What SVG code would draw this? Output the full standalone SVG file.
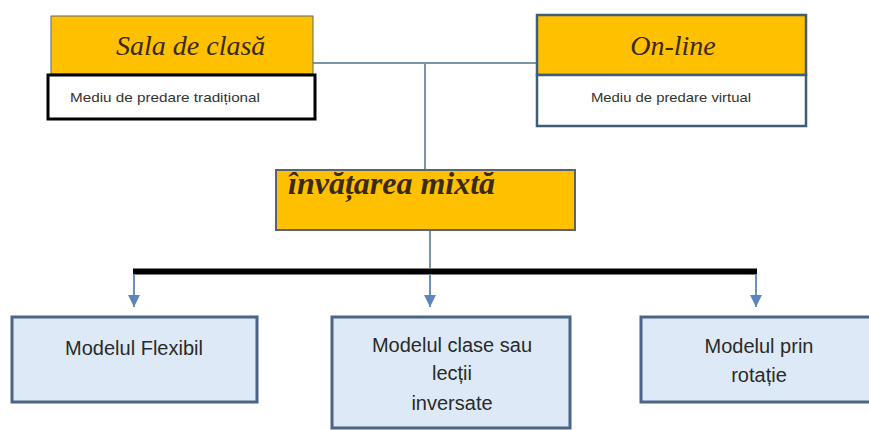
<svg xmlns="http://www.w3.org/2000/svg" width="869" height="430" viewBox="0 0 869 430">
<style>
.hd{fill:#ffc000}
.ser{font-family:"Liberation Serif","DejaVu Serif",serif;font-style:italic;fill:#3a2a10}
.sm{font-family:"Liberation Sans",Arial,sans-serif;font-size:13px;fill:#333}
.bx{fill:#dde9f6;stroke:#4a6585;stroke-width:3}
.bt{font-family:"Liberation Sans",Arial,sans-serif;font-size:20px;fill:#2a2a2a;text-anchor:middle}
.ln{stroke:#7b93ad;stroke-width:2;fill:none}
.ar{stroke:#6a90c0;stroke-width:2;fill:none}
</style>
<defs>
<marker id="ah" viewBox="0 0 10 10" refX="10" refY="5" markerWidth="12" markerHeight="12" markerUnits="userSpaceOnUse" orient="auto">
<path d="M0,0 L10,5 L0,10 Z" fill="#5a86bd"/>
</marker>
</defs>
<rect width="869" height="430" fill="#ffffff"/>
<g id="connectors">
<line class="ln" x1="313" y1="63" x2="536" y2="63"/>
<line class="ln" x1="425" y1="63" x2="425" y2="170"/>
<line class="ln" x1="430" y1="230" x2="430" y2="268"/>
<line x1="133" y1="271.5" x2="757" y2="271.5" stroke="#000" stroke-width="6"/>
<path class="ar" d="M134,274 V307" marker-end="url(#ah)"/>
<path class="ar" d="M430,274 V307" marker-end="url(#ah)"/>
<path class="ar" d="M756,274 V307" marker-end="url(#ah)"/>
</g>
<g id="sala">
<rect class="hd" x="51" y="16" width="262" height="58" stroke="#5a6a70" stroke-width="1"/>
<text class="ser" x="116" y="55" font-size="28">Sala de clasă</text>
<rect x="48" y="75" width="267" height="44" fill="#fff" stroke="#000" stroke-width="3"/>
<text class="sm" x="70" y="102" textLength="190" lengthAdjust="spacingAndGlyphs">Mediu de predare tradițional</text>
</g>
<g id="online">
<rect class="hd" x="537" y="15" width="269" height="60" stroke="#3f5c78" stroke-width="2.5"/>
<text class="ser" x="673" y="55" font-size="28" text-anchor="middle">On-line</text>
<rect x="537" y="75" width="269" height="51" fill="#fff" stroke="#3f5c78" stroke-width="2.5"/>
<text class="sm" x="671" y="102" text-anchor="middle" textLength="160" lengthAdjust="spacingAndGlyphs">Mediu de predare virtual</text>
</g>
<g id="mixta">
<rect class="hd" x="276" y="170" width="299" height="60" stroke="#5a6470" stroke-width="2"/>
<text class="ser" x="288" y="194" font-size="32" font-weight="bold">învățarea mixtă</text>
</g>
<g id="flexibil">
<rect class="bx" x="12" y="317" width="245" height="85"/>
<text class="bt" x="134" y="355">Modelul Flexibil</text>
</g>
<g id="inversate">
<rect class="bx" x="332" y="317" width="238" height="111"/>
<text class="bt" x="452" y="352">Modelul clase sau</text>
<text class="bt" x="452" y="380">lecții</text>
<text class="bt" x="452" y="410">inversate</text>
</g>
<g id="rotatie">
<rect class="bx" x="641" y="317" width="240" height="85"/>
<text class="bt" x="759" y="353">Modelul prin</text>
<text class="bt" x="759" y="382">rotație</text>
</g>
</svg>
